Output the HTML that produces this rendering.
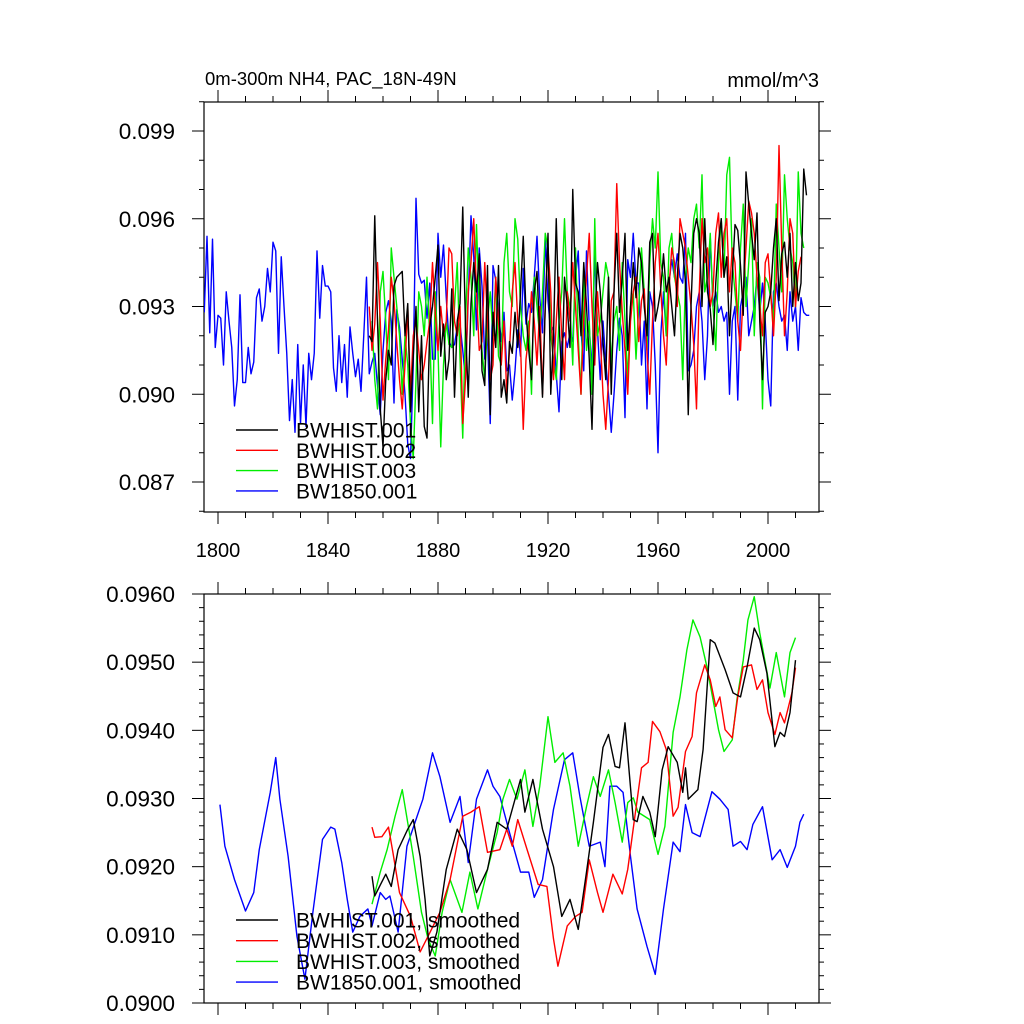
<!DOCTYPE html>
<html><head><meta charset="utf-8"><style>
html,body{margin:0;padding:0;background:#fff;}
svg{display:block;font-family:"Liberation Sans",sans-serif;}
</style></head><body>
<svg id="chart" width="1024" height="1024" viewBox="0 0 1024 1024" xmlns="http://www.w3.org/2000/svg">
<defs>
<clipPath id="clipTop"><rect x="204" y="102" width="615" height="410"/></clipPath>
<clipPath id="clipBot"><rect x="204" y="594" width="615" height="409"/></clipPath>
</defs>
<text x="205" y="85" font-size="18.5">0m-300m NH4, PAC_18N-49N</text>
<text x="819" y="87" font-size="20" text-anchor="end">mmol/m^3</text>
<g id="top"></g>
<g id="bot"></g>
</svg>
<script>
// ---------- data ----------
const xTickYears = [1800, 1840, 1880, 1920, 1960, 2000];
const topYTicks = [0.087, 0.090, 0.093, 0.096, 0.099];
const topYTickLabels = ["0.087", "0.090", "0.093", "0.096", "0.099"];
const botYTicks = [0.090, 0.091, 0.092, 0.093, 0.094, 0.095, 0.096];
const botYTickLabels = ["0.0900", "0.0910", "0.0920", "0.0930", "0.0940", "0.0950", "0.0960"];

const blueStart = 1795;
const blueRaw = [.0928,.0954,.0921,.0953,.0916,.0927,.0926,.0910,.0935,.0925,.0916,.0896,.0905,.0934,.0904,.0904,.0916,.0907,.0911,.0933,.0936,.0925,.0930,.0943,.0935,.0952,.0949,.0914,.0947,.0930,.0914,.0891,.0905,.0887,.0917,.0890,.0910,.0889,.0914,.0905,.0914,.0949,.0926,.0944,.0937,.0937,.0935,.0909,.0901,.0920,.0904,.0917,.0899,.0923,.0914,.0906,.0912,.0901,.0920,.0940,.0907,.0911,.0914,.0903,.0893,.0915,.0928,.0932,.0925,.0897,.0929,.0923,.0912,.0900,.0883,.0878,.0910,.0967,.0941,.0938,.0939,.0926,.0938,.0912,.0912,.0955,.0940,.0951,.0933,.0918,.0916,.0917,.0923,.0924,.0915,.0905,.0933,.0961,.0947,.0922,.0950,.0937,.0912,.0920,.0890,.0944,.0939,.0928,.0918,.0928,.0908,.0910,.0898,.0908,.0922,.0913,.0943,.0924,.0931,.0928,.0940,.0954,.0933,.0921,.0954,.0932,.0921,.0923,.0907,.0894,.0918,.0921,.0916,.0921,.0918,.0940,.0949,.0922,.0908,.0949,.0923,.0908,.0949,.0922,.0905,.0925,.0911,.0900,.0887,.0900,.0915,.0926,.0920,.0892,.0946,.0940,.0955,.0938,.0938,.0910,.0925,.0895,.0935,.0930,.0910,.0880,.0920,.0935,.0920,.0938,.0946,.0940,.0948,.0940,.0938,.0955,.0908,.0910,.0915,.0930,.0935,.0925,.0905,.0920,.0954,.0930,.0935,.0928,.0930,.0925,.0928,.0900,.0925,.0930,.0898,.0930,.0935,.0940,.0920,.0925,.0930,.0940,.0928,.0938,.0925,.0905,.0896,.0935,.0938,.0930,.0925,.0927,.0915,.0935,.0925,.0930,.0915,.0933,.0928,.0927,.0927];

const blackStart = 1855;
const blackRaw = [.0920,.0918,.0961,.0925,.0895,.0882,.0905,.0915,.0910,.0937,.0940,.0941,.0942,.0920,.0931,.0894,.0913,.0930,.0894,.0920,.0889,.0885,.0923,.0930,.0940,.0951,.0913,.0924,.0905,.0912,.0936,.0899,.0925,.0931,.0964,.0923,.0899,.0931,.0945,.0935,.0948,.0908,.0903,.0944,.0893,.0928,.0916,.0944,.0899,.0905,.0897,.0918,.0914,.0928,.0916,.0935,.0954,.0928,.0915,.0905,.0935,.0942,.0920,.0899,.0930,.0955,.0900,.0920,.0960,.0925,.0905,.0940,.0930,.0916,.0970,.0938,.0935,.0920,.0945,.0930,.0912,.0888,.0925,.0945,.0935,.0918,.0905,.0940,.0900,.0935,.0955,.0928,.0940,.0955,.0915,.0930,.0945,.0933,.0950,.0945,.0930,.0920,.0952,.0955,.0925,.0930,.0936,.0948,.0935,.0940,.0930,.0920,.0940,.0955,.0950,.0938,.0893,.0930,.0955,.0960,.0955,.0930,.0960,.0935,.0929,.0917,.0938,.0952,.0960,.0940,.0947,.0920,.0940,.0958,.0956,.0944,.0927,.0976,.0965,.0955,.0946,.0962,.0925,.0905,.0928,.0930,.0935,.0950,.0960,.0932,.0948,.0952,.0940,.0955,.0930,.0945,.0932,.0938,.0977,.0968];

const redStart = 1855;
const redRaw = [.0930,.0915,.0924,.0945,.0925,.0898,.0912,.0922,.0940,.0932,.0918,.0905,.0895,.0910,.0930,.0900,.0920,.0925,.0915,.0905,.0910,.0918,.0925,.0945,.0928,.0915,.0930,.0920,.0925,.0950,.0948,.0925,.0920,.0930,.0890,.0905,.0935,.0945,.0960,.0935,.0915,.0918,.0945,.0925,.0905,.0910,.0940,.0925,.0910,.0925,.0900,.0915,.0935,.0945,.0925,.0917,.0888,.0912,.0920,.0935,.0925,.0910,.0930,.0900,.0930,.0950,.0935,.0905,.0925,.0940,.0920,.0905,.0935,.0925,.0945,.0930,.0915,.0900,.0926,.0940,.0955,.0930,.0910,.0935,.0920,.0900,.0888,.0905,.0932,.0935,.0972,.0945,.0928,.0915,.0900,.0925,.0935,.0940,.0918,.0932,.0936,.0914,.0900,.0925,.0945,.0955,.0936,.0920,.0910,.0936,.0950,.0945,.0930,.0960,.0955,.0950,.0940,.0930,.0917,.0895,.0935,.0960,.0945,.0950,.0930,.0935,.0955,.0962,.0940,.0955,.0960,.0935,.0950,.0945,.0925,.0915,.0935,.0950,.0966,.0962,.0955,.0940,.0930,.0920,.0945,.0948,.0935,.0920,.0940,.0985,.0950,.0920,.0935,.0960,.0955,.0930,.0942,.0947];

const greenStart = 1856;
const greenRaw = [.0925,.0905,.0895,.0935,.0942,.0925,.0905,.0950,.0940,.0930,.0920,.0900,.0920,.0910,.0890,.0878,.0905,.0935,.0930,.0920,.0940,.0920,.0890,.0935,.0915,.0882,.0910,.0925,.0917,.0916,.0930,.0945,.0912,.0885,.0925,.0950,.0940,.0920,.0958,.0930,.0915,.0905,.0925,.0935,.0920,.0940,.0913,.0910,.0945,.0955,.0935,.0930,.0960,.0953,.0930,.0920,.0915,.0925,.0900,.0940,.0930,.0920,.0935,.0955,.0950,.0920,.0912,.0905,.0925,.0935,.0960,.0935,.0930,.0910,.0950,.0920,.0900,.0940,.0915,.0925,.0900,.0960,.0920,.0925,.0935,.0945,.0940,.0910,.0925,.0930,.0915,.0945,.0925,.0905,.0930,.0935,.0912,.0930,.0950,.0935,.0915,.0945,.0960,.0950,.0976,.0945,.0940,.0920,.0950,.0955,.0940,.0935,.0930,.0905,.0940,.0950,.0945,.0960,.0965,.0950,.0975,.0935,.0940,.0955,.0930,.0915,.0945,.0960,.0940,.0975,.0981,.0945,.0935,.0925,.0950,.0965,.0930,.0945,.0960,.0920,.0945,.0940,.0895,.0940,.0938,.0933,.0925,.0965,.0950,.0935,.0975,.0960,.0950,.0945,.0930,.0976,.0955,.0950];

const blueSmYears = [1800.7,1802.5,1806,1810,1813,1815,1819,1821,1822.5,1825.5,1828.7,1831.6,1834.5,1838,1841,1842.5,1845,1847,1849,1851.6,1854.5,1856,1859,1861,1862.5,1865.5,1868.7,1872.4,1874.5,1878,1880.7,1884.4,1888,1891,1894,1898,1900,1902.5,1906,1910,1913,1915,1918,1922,1926,1929,1931.6,1935,1939,1940.7,1942.5,1945,1947.3,1950,1952.4,1956,1959,1962,1965.5,1968,1970,1972.4,1975.3,1979.6,1982.5,1985.5,1987.3,1990,1992.4,1994.5,1998,2001.5,2004.4,2007,2010,2011.6,2013];
const blueSm = [.09291,.0923,.09181,.09135,.09162,.09225,.09309,.0936,.09299,.09215,.09098,.09035,.09133,.0924,.09258,.09255,.09206,.09152,.09104,.09127,.09138,.09113,.09162,.09152,.09157,.09104,.0923,.09274,.09299,.09367,.09332,.09265,.09303,.09206,.09299,.09342,.09318,.09303,.0925,.09192,.09192,.09155,.09181,.09284,.09357,.09367,.09303,.0923,.09236,.092,.09318,.09318,.09309,.09215,.09138,.09083,.09042,.09138,.09236,.09222,.09291,.0925,.09244,.0931,.09299,.09284,.0923,.09237,.09225,.09262,.09288,.0921,.09225,.09199,.0923,.09265,.09277];

const blackSmYears = [1856,1857,1861,1863,1865.5,1869,1871,1873.5,1875.3,1877,1879.6,1883,1887,1890.5,1894,1898,1901.5,1905,1910,1911.6,1914.5,1918,1922,1925,1928,1931,1934,1936.5,1940,1942,1944.4,1946,1948,1951,1952.4,1954.5,1957,1959,1961.5,1963.7,1967,1969,1970,1971,1974.5,1976.4,1979,1980.7,1984.4,1987.3,1990,1992.4,1995,1997,1999.6,2002.5,2004.4,2006,2008,2010];
const blackSm = [.09186,.09157,.09189,.09171,.09225,.09255,.09269,.09215,.09152,.09069,.09104,.09196,.09255,.09225,.09162,.09196,.09265,.09255,.09328,.0928,.09328,.09255,.092,.09127,.09152,.09108,.09192,.09265,.09375,.09394,.09347,.09345,.09411,.09269,.09266,.09303,.0928,.09244,.09342,.09376,.09353,.09309,.09345,.09299,.09313,.09372,.09533,.09528,.09489,.09455,.09449,.09493,.0955,.09533,.09484,.09376,.09397,.09391,.09426,.09503];

const redSmYears = [1856,1857,1859.6,1862,1863.6,1866,1870,1873.5,1876.4,1880.7,1884.4,1889,1892,1895,1898,1902.5,1905,1907,1909,1912.4,1916.4,1919.6,1922,1923.6,1927,1930,1932.4,1935,1938,1940,1943.6,1947,1949,1951.6,1954,1956.4,1958,1960.7,1963,1965.5,1967.3,1970,1972.4,1974,1977,1979,1981,1982.5,1984.4,1987,1989,1991,1994,1996,1998,2000,2002.5,2004.4,2006,2008.7,2010];
const redSm = [.09258,.09243,.09244,.09258,.09221,.09162,.09127,.09075,.09098,.09133,.09181,.09274,.0928,.09288,.09221,.09225,.09255,.0923,.09269,.09225,.09174,.09171,.09094,.09054,.09113,.09127,.09133,.0921,.09162,.09133,.09189,.0916,.09196,.09274,.09345,.09353,.09413,.09398,.09372,.09274,.09287,.09369,.09391,.09455,.09496,.09474,.09435,.09449,.09401,.09389,.09449,.09493,.09496,.0946,.09474,.09426,.09394,.09426,.09411,.09455,.09492];

const greenSmYears = [1856,1859,1861.5,1864.4,1867,1870,1871,1874,1876.4,1879,1881.5,1884.4,1888.7,1891.6,1894.5,1898,1901.5,1903.6,1906,1908.7,1911.6,1914.5,1917,1920,1922.5,1925.5,1928,1931,1934,1936.5,1939,1942,1944.4,1947,1949,1951,1952.7,1957,1960,1962.5,1965.5,1968,1970.5,1972.7,1975.3,1977.8,1980,1982,1984,1987,1988.7,1991,1992.7,1995,1997,2000.7,2003,2006,2008,2010];
const greenSm = [.09145,.09192,.09225,.09274,.09313,.0924,.09215,.09133,.09094,.09069,.09133,.09181,.09133,.09192,.09138,.09196,.0925,.09299,.09328,.09299,.09342,.09259,.09318,.0942,.09353,.09367,.09318,.0923,.09288,.09332,.09303,.09342,.09294,.09236,.09294,.09301,.0928,.09269,.09218,.09259,.09397,.09449,.09518,.09562,.09537,.09493,.09445,.09401,.09369,.09386,.09445,.09503,.09562,.09596,.09543,.09462,.09514,.09449,.09514,.09536];

// ---------- axes ----------
const NS = "http://www.w3.org/2000/svg";
const X0 = 204, X1 = 819;
function xOf(yr){ return 218 + (yr - 1800) * 2.75; }
function yTop(v){ return 131 + (0.099 - v) * 29250; }
function yBot(v){ return 594 + (0.096 - v) * (409 / 0.006); }

function mk(tag, attrs, parent){
  const e = document.createElementNS(NS, tag);
  for (const k in attrs) e.setAttribute(k, attrs[k]);
  parent.appendChild(e);
  return e;
}

function drawPanel(g, yT, yB, yFn, yTicks, yLabels, minorStep, yMin, yMax, showXLabels, prefix){
  const frame = mk('rect', {x:X0, y:yT, width:X1-X0, height:yB-yT, fill:'none', stroke:'#000', 'stroke-width':1.2}, g);
  
  
  for (let yr = 1800; yr <= 2010; yr += 10){
    const major = (yr - 1800) % 40 === 0;
    const L = major ? 12 : 6;
    const x = xOf(yr);
    const t1 = mk('line', {x1:x, x2:x, y1:yB, y2:yB+L, stroke:'#000', 'stroke-width':1}, g);
    
    
    const t2 = mk('line', {x1:x, x2:x, y1:yT, y2:yT-L, stroke:'#000', 'stroke-width':1}, g);
    
    
  }
  if (showXLabels){
    xTickYears.forEach(yr => {
      const t = mk('text', {x:xOf(yr), y:yB+45, 'font-size':20, 'text-anchor':'middle'}, g);
      t.textContent = String(yr);
      
      
    });
  }
  for (let v = yMin; v <= yMax + 1e-9; v += minorStep){
    const y = yFn(v);
    if (y < yT - 0.5 || y > yB + 0.5) continue;
    const isMajor = yTicks.some(m => Math.abs(m - v) < minorStep / 10);
    const L = isMajor ? 12 : 5;
    const a = mk('line', {x1:X0-L, x2:X0, y1:y, y2:y, stroke:'#000', 'stroke-width':1}, g);
    
    
    const b = mk('line', {x1:X1, x2:X1+L, y1:y, y2:y, stroke:'#000', 'stroke-width':1}, g);
    
    
  }
  yTicks.forEach((v, i) => {
    const t = mk('text', {x:175, y:yFn(v)+8, 'font-size':22.5, 'text-anchor':'end'}, g);
    t.textContent = yLabels[i];
    
    
  });
}

function seriesPath(g, xs, vs, yFn, color, clip, name){
  let d = '';
  vs.forEach((v, i) => { d += (i ? 'L' : 'M') + xOf(xs[i]).toFixed(2) + ',' + yFn(v).toFixed(2); });
  const p = mk('path', {d:d, fill:'none', stroke:color, 'stroke-width':1.4, 'stroke-linejoin':'round', 'clip-path':'url(#' + clip + ')'}, g);
  
  
}
function yearsFrom(start, arr){ return arr.map((_, i) => start + i); }

function legend(g, entries, y0, dy, prefix){
  entries.forEach((en, i) => {
    const y = y0 + i * dy;
    const l = mk('line', {x1:236, x2:278, y1:y, y2:y, stroke:en[1], 'stroke-width':1.4}, g);
    
    
    const t = mk('text', {x:296, y:y+7.5, 'font-size':21}, g);
    t.textContent = en[0];
    
    
  });
}

const gTop = document.getElementById('top');
const gBot = document.getElementById('bot');
drawPanel(gTop, 102, 512, yTop, topYTicks, topYTickLabels, 0.001, 0.086, 0.100, true, 'top');
drawPanel(gBot, 594, 1003, yBot, botYTicks, botYTickLabels, 0.0002, 0.090, 0.096, false, 'bottom');

seriesPath(gTop, yearsFrom(blueStart, blueRaw), blueRaw, yTop, '#0000ff', 'clipTop', 'bw1850-001-line');
seriesPath(gTop, yearsFrom(greenStart, greenRaw), greenRaw, yTop, '#00ee00', 'clipTop', 'bwhist-003-line');
seriesPath(gTop, yearsFrom(redStart, redRaw), redRaw, yTop, '#ff0000', 'clipTop', 'bwhist-002-line');
seriesPath(gTop, yearsFrom(blackStart, blackRaw), blackRaw, yTop, '#000000', 'clipTop', 'bwhist-001-line');

seriesPath(gBot, blueSmYears, blueSm, yBot, '#0000ff', 'clipBot', 'bw1850-001-smoothed-line');
seriesPath(gBot, greenSmYears, greenSm, yBot, '#00ee00', 'clipBot', 'bwhist-003-smoothed-line');
seriesPath(gBot, redSmYears, redSm, yBot, '#ff0000', 'clipBot', 'bwhist-002-smoothed-line');
seriesPath(gBot, blackSmYears, blackSm, yBot, '#000000', 'clipBot', 'bwhist-001-smoothed-line');

legend(gTop, [['BWHIST.001','#000'],['BWHIST.002','#f00'],['BWHIST.003','#0e0'],['BW1850.001','#00f']], 430, 20.3, 'top');
legend(gBot, [['BWHIST.001, smoothed','#000'],['BWHIST.002, smoothed','#f00'],['BWHIST.003, smoothed','#0e0'],['BW1850.001, smoothed','#00f']], 920, 20.7, 'bottom');
</script>
</body></html>
